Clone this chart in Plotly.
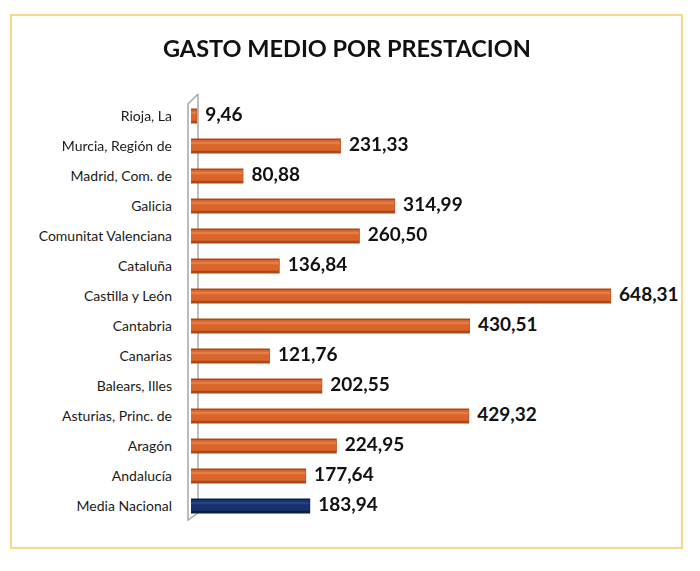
import plotly.graph_objects as go

# Data (bottom to top)
categories = ["Media Nacional", "Andalucía", "Aragón", "Asturias, Princ. de", "Balears, Illes",
              "Canarias", "Cantabria", "Castilla y León", "Cataluña", "Comunitat Valenciana",
              "Galicia", "Madrid, Com. de", "Murcia, Región de", "Rioja, La"]
values = [183.94, 177.64, 224.95, 429.32, 202.55, 121.76, 430.51, 648.31, 136.84, 260.50,
          314.99, 80.88, 231.33, 9.46]
labels = [f"{v:.2f}".replace(".", ",") for v in values]

# page has an 8px body margin; work in viewport pixels
OFF = 8
W_PX, H_PX = 700 - OFF, 571 - OFF
L, R, T, B = 191, 641, 101, 521   # viewport pixels of plot area
SCALE = 0.648  # px per unit
xmax = (R - L) / SCALE
GAP = 8 / SCALE

def px(x):
    return (x - L) / (R - L)

def py(y):
    return (B - y) / (B - T)

orange_dark = "#A9481A"
orange = "#D9652A"
orange_hi = "#E98A58"
navy_dark = "#0B1E4A"
navy = "#15316E"
navy_hi = "#2D4C8C"

is_nat = [c == "Media Nacional" for c in categories]
c_dark = [navy_dark if n else orange_dark for n in is_nat]
c_mid = [navy if n else orange for n in is_nat]
c_hi = [navy_hi if n else orange_hi for n in is_nat]

fig = go.Figure()
fig.add_trace(go.Bar(
    y=categories, x=values, orientation="h", width=0.5, marker=dict(color=c_dark, line=dict(width=0)),
    hoverinfo="skip"))
fig.add_trace(go.Bar(
    y=categories, x=[v - 0.6 for v in values], orientation="h", width=0.36, offset=-0.16,
    marker=dict(color=c_mid, line=dict(width=0)), hoverinfo="skip"))
fig.add_trace(go.Bar(
    y=categories, x=[v - 1.2 for v in values], orientation="h", width=0.08, offset=0.06,
    marker=dict(color=c_hi, line=dict(width=0)), opacity=0.7, hoverinfo="skip"))
fig.add_trace(go.Scatter(
    y=categories, x=[v + GAP for v in values], mode="text", text=[f"<b>{t}</b>" for t in labels],
    textposition="middle right", cliponaxis=False,
    textfont=dict(family="Lato", size=19, color="#111111"), hoverinfo="skip"))

shapes = [
    dict(type="rect", xref="paper", yref="paper", x0=px(11), x1=px(682), y0=py(15), y1=py(548),
         line=dict(color="#F8D98C", width=2), fillcolor="rgba(0,0,0,0)", layer="below"),
    dict(type="path", xref="paper", yref="paper",
         path=f"M {px(198)} {py(94)} L {px(188)} {py(104)} L {px(188)} {py(520)} L {px(198)} {py(513)}",
         line=dict(color="#A8A8A8", width=1.5), layer="below"),
    dict(type="line", xref="paper", yref="paper", x0=px(198), x1=px(198), y0=py(94), y1=py(513),
         line=dict(color="#A8A8A8", width=1.5), layer="below"),
]

fig.update_layout(
    width=W_PX, height=H_PX,
    margin=dict(l=L - OFF, r=700 - R, t=T - OFF, b=571 - B),
    paper_bgcolor="white", plot_bgcolor="white",
    barmode="overlay", showlegend=False,
    shapes=shapes,
    annotations=[dict(text="<b>GASTO MEDIO POR PRESTACION</b>", xref="paper", yref="paper",
                      x=px(347), y=py(48), xanchor="center", yanchor="middle", showarrow=False,
                      font=dict(family="Lato", size=23.5, color="#111111"))],
    xaxis=dict(range=[0, xmax], visible=False),
    yaxis=dict(range=[-0.5, len(categories) - 0.5], showline=False, showgrid=False, zeroline=False,
               ticks="", ticklabelstandoff=18,
               tickfont=dict(family="Lato", size=14, color="#1A1A1A")),
)

fig.write_html("out.html")
